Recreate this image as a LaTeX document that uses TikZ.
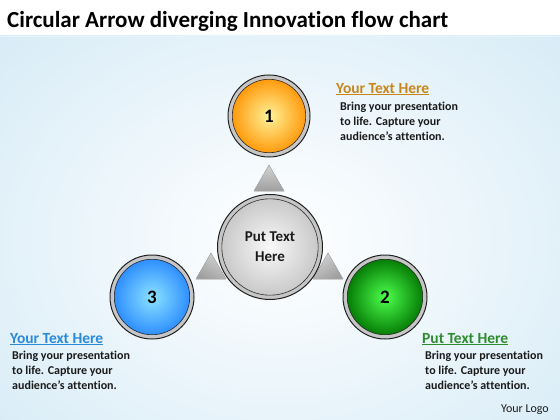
\documentclass[tikz,border=0pt]{standalone}
\usepackage{fontspec}
\setmainfont{Carlito}[Ligatures=NoCommon]
\usetikzlibrary{calc}
\definecolor{bgblue}{HTML}{D4EAF6}
\definecolor{txt}{HTML}{1A1A1A}
\definecolor{hOrange}{HTML}{C8861C}
\definecolor{hBlue}{HTML}{2A8AD8}
\definecolor{hGreen}{HTML}{2E8B2E}
\tikzset{
  ballnode/.style={circle, inner sep=0pt, minimum size=#1, font=\bfseries\fontsize{19}{19}\selectfont, text=black},
  ringouter/.style={draw=gray!25!black, line width=1pt},
  ringmid/.style={draw=gray!45, line width=3.6pt},
  ringinner/.style={draw=gray!35!black, line width=0.6pt},
  headtxt/.style={anchor=base west, inner sep=0pt, font=\bfseries\fontsize{15.5}{15.5}\selectfont},
  bodytxt/.style={anchor=north west, inner sep=0pt, align=left, text=txt, font=\bfseries\fontsize{12}{15}\selectfont},
  tri/.style={shading=axis, top color=gray!35, bottom color=gray!75, draw=gray!60, line width=0.3pt},
}
\newcommand{\ringit}[2]{%
  \draw[ringmid] (#1) circle (#2-2.2);
  \draw[ringouter] (#1) circle (#2);
  \draw[ringinner] (#1) circle (#2-4.3);
}
\begin{document}
\begin{tikzpicture}[x=1pt,y=-1pt]
\useasboundingbox (0,0) rectangle (560,420);
% background
\fill[white] (0,0) rectangle (560,420);
\begin{scope}
\clip (0,36) rectangle (560,420);
\shade[inner color=white, outer color=bgblue] (280,240) ellipse (420 and 330);
\end{scope}
\fill[bgblue!60] (0,36) rectangle (560,37.5);
% title
\node[anchor=base west, inner sep=0pt, font=\bfseries\fontsize{23}{23}\selectfont, text=black] (title) at (7,28) {Circular Arrow diverging Innovation flow chart};
% triangles
\fill[tri] (269,165) -- (284,191) -- (254,191) -- cycle;
\fill[tri, shading angle=-30] (196,279) -- (226,279) -- (211,253) -- cycle;
\fill[tri, shading angle=30] (343,279) -- (313,279) -- (328,253) -- cycle;
% circles
\node[ballnode=80, shading=radial, inner color=orange!25!yellow!40, outer color=orange!85!yellow] (c1) at (269,116) {1};
\ringit{c1.center}{41}
\node[ballnode=104, shading=radial, inner color=gray!5, outer color=gray!45, font=\bfseries\fontsize{15}{20}\selectfont, align=center, text=txt] (c0) at (270,247) {Put Text\\Here};
\ringit{c0.center}{52.5}
\node[ballnode=82, shading=radial, inner color=blue!25!cyan!45, outer color=blue!55!cyan!85] (c3) at (152,297) {3};
\ringit{c3.center}{42}
\node[ballnode=82, shading=radial, inner color=green!70!white, outer color=green!45!black] (c2) at (385,297) {2};
\ringit{c2.center}{42}
% texts
\node[headtxt, text=hOrange] (h1) at (336,93) {\underline{Your Text Here}};
\node[bodytxt] (b1) at (340,102) {Bring your presentation\\to life. Capture your\\audience’s attention.};
\node[headtxt, text=hBlue] (h3) at (10,343) {\underline{Your Text Here}};
\node[bodytxt] (b3) at (12,351) {Bring your presentation\\to life. Capture your\\audience’s attention.};
\node[headtxt, text=hGreen] (h2) at (422,343) {\underline{Put Text Here}};
\node[bodytxt] (b2) at (425,351) {Bring your presentation\\to life. Capture your\\audience’s attention.};
\node[anchor=base east, inner sep=0pt, text=txt, font=\fontsize{12}{12}\selectfont] (logo) at (549,412) {Your Logo};
\end{tikzpicture}
\end{document}
